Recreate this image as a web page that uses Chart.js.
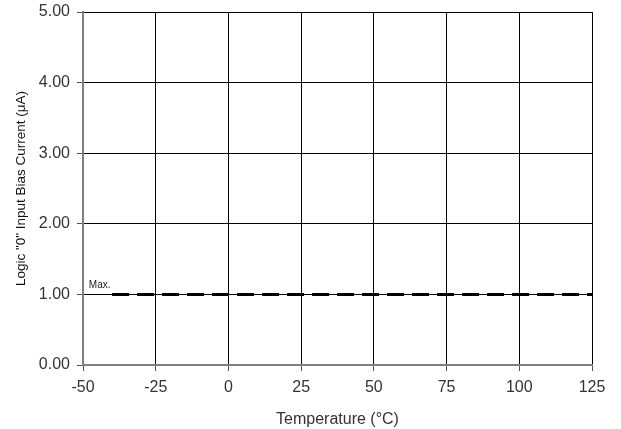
<!DOCTYPE html>
<html lang="en">
<head>
  <meta charset="UTF-8">
  <title>Logic 0 Input Bias Current</title>
  <style>
    body { margin: 0; background: #fff; }
    #wrap { width: 621px; height: 429px; }
  </style>
  <script src="https://cdn.jsdelivr.net/npm/chart.js"></script>
</head>
<body>
  <div id="wrap"><canvas id="chart" width="621" height="429"></canvas></div>
  <script>
    const temps = [-40, 125];
    const maxCurrent = [1.0, 1.0];
    const xTicks = [-50, -25, 0, 25, 50, 75, 100, 125];
    const yTicks = [0, 1, 2, 3, 4, 5];

    // "Max." label near the left end of the line
    const maxLabel = {
      id: 'maxLabel',
      afterDatasetsDraw(chart) {
        const { ctx, scales } = chart;
        ctx.save();
        ctx.font = '10px "Liberation Sans", Arial, sans-serif';
        ctx.fillStyle = '#222';
        ctx.textBaseline = 'bottom';
        ctx.fillText('Max.', scales.x.getPixelForValue(-48), scales.y.getPixelForValue(1) - 4);
        ctx.restore();
      }
    };

    new Chart(document.getElementById('chart'), {
      type: 'line',
      data: {
        datasets: [{
          label: 'Max.',
          data: temps.map((t, i) => ({ x: t, y: maxCurrent[i] })),
          borderColor: '#000',
          borderWidth: 3,
          borderDash: [17, 8],
          pointRadius: 0,
          fill: false
        }]
      },
      options: {
        responsive: false,
        animation: false,
        layout: { padding: { top: 12, right: 29, left: 0, bottom: 0 } },
        plugins: { legend: { display: false }, tooltip: { enabled: false } },
        scales: {
          x: {
            type: 'linear',
            min: -50, max: 125,
            afterBuildTicks: s => { s.ticks = xTicks.map(v => ({ value: v })); },
            afterFit: s => { s.height = 64; },
            grid: { color: '#000', lineWidth: 1, tickLength: 6, tickColor: '#555' },
            border: { color: '#808080', width: 2 },
            ticks: {
              color: '#333',
              font: { family: '"Liberation Sans", Arial', size: 16 },
              padding: 7,
              maxRotation: 0
            },
            title: {
              display: true, text: 'Temperature (°C)', color: '#333',
              font: { family: '"Liberation Sans", Arial', size: 16 },
              padding: { top: 3, bottom: 0 }
            }
          },
          y: {
            min: 0, max: 5,
            afterBuildTicks: s => { s.ticks = yTicks.map(v => ({ value: v })); },
            afterFit: s => { s.width = 83; s.paddingTop = 0; s.paddingBottom = 0; },
            grid: { color: '#000', lineWidth: 1, tickLength: 6, tickColor: '#555' },
            border: { color: '#808080', width: 2 },
            ticks: {
              color: '#333',
              font: { family: '"Liberation Sans", Arial', size: 16 },
              padding: 7,
              callback: v => v.toFixed(2)
            },
            title: {
              display: true, text: 'Logic "0" Input Bias Current (μA)', color: '#111',
              font: { family: '"Liberation Sans", Arial', size: 13.5 },
              padding: { top: 13, bottom: 6 }
            }
          }
        }
      },
      plugins: [maxLabel]
    });
  </script>
</body>
</html>
